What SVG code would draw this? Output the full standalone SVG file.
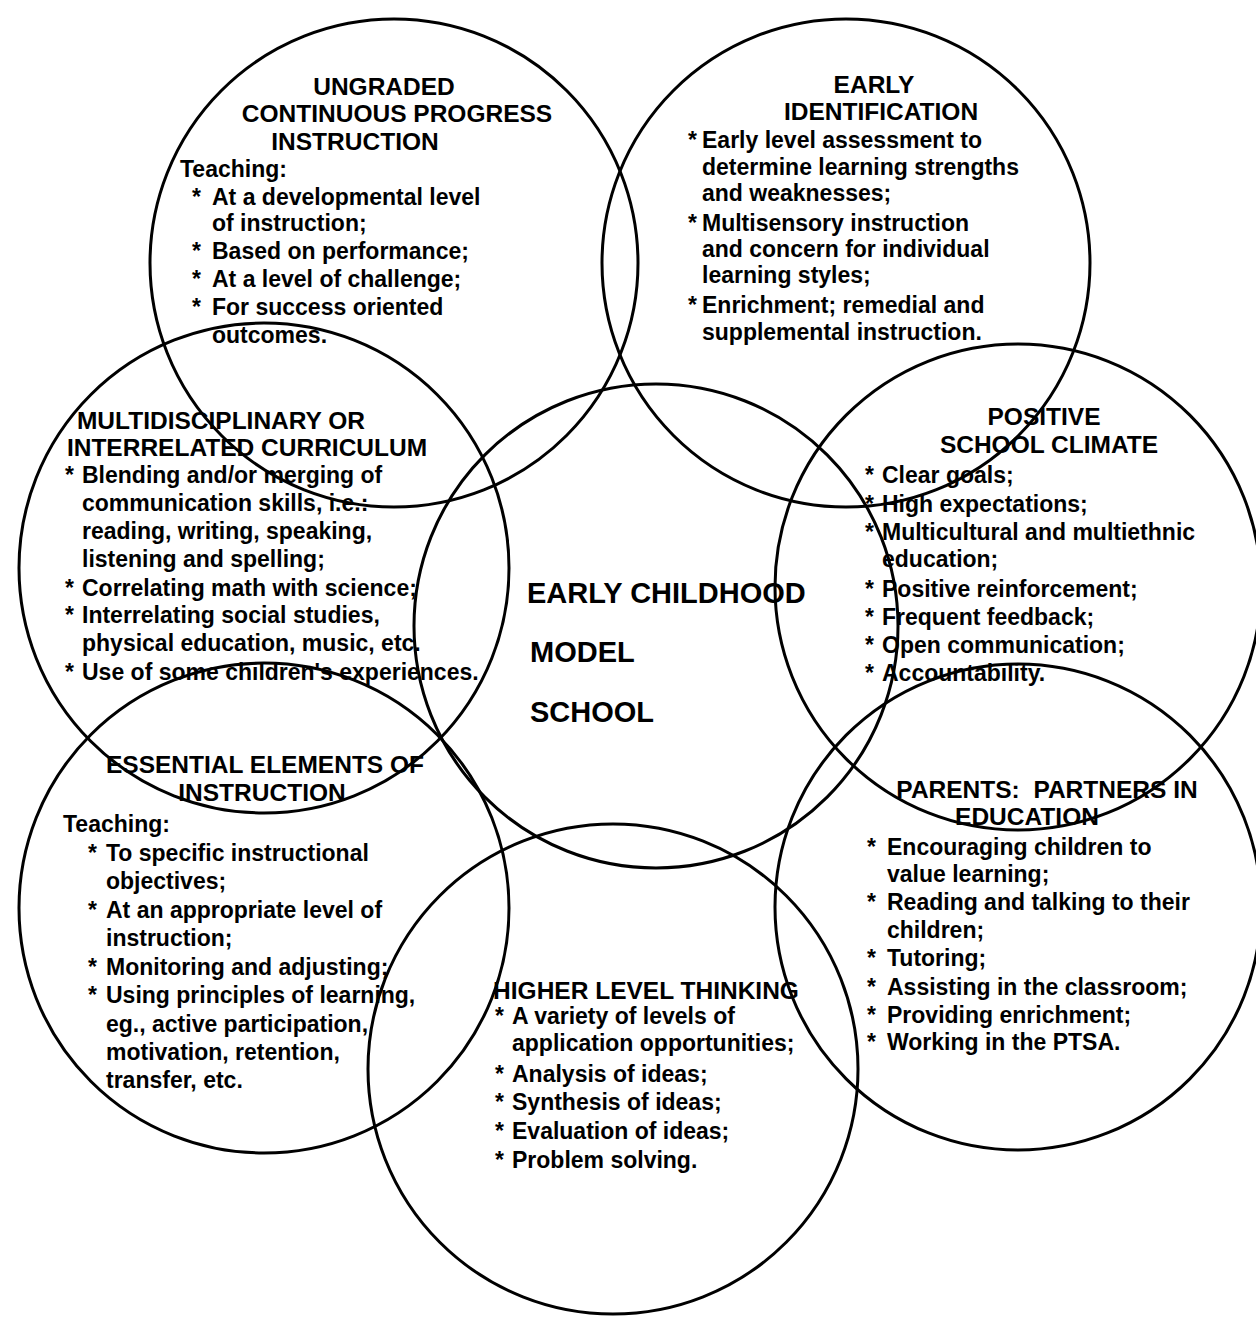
<svg xmlns="http://www.w3.org/2000/svg" width="1256" height="1317" viewBox="0 0 1256 1317">
<style>
.c{fill:none;stroke:#000;stroke-width:3}
text{font-family:"Liberation Sans",Arial,Helvetica,sans-serif;font-weight:bold;fill:#000}
.h{font-size:24.5px;text-anchor:middle}
.b{font-size:23px}
.m{font-size:29px}
</style>
<rect width="1256" height="1317" fill="#fff"/>
<g id="ungraded">
<circle class="c" cx="394" cy="263" r="244"/>
<text class="h" x="384" y="95">UNGRADED</text>
<text class="h" x="397" y="122">CONTINUOUS PROGRESS</text>
<text class="h" x="355" y="150">INSTRUCTION</text>
<text class="b" x="180" y="177">Teaching:</text>
<text class="b" x="192" y="205">*</text><text class="b" x="212" y="205">At a developmental level</text>
<text class="b" x="212" y="231">of instruction;</text>
<text class="b" x="192" y="259">*</text><text class="b" x="212" y="259">Based on performance;</text>
<text class="b" x="192" y="287">*</text><text class="b" x="212" y="287">At a level of challenge;</text>
<text class="b" x="192" y="315">*</text><text class="b" x="212" y="315">For success oriented</text>
<text class="b" x="212" y="343">outcomes.</text>
</g>
<g id="early-identification">
<circle class="c" cx="846" cy="263" r="244"/>
<text class="h" x="874" y="93">EARLY</text>
<text class="h" x="881" y="120">IDENTIFICATION</text>
<text class="b" x="688" y="148">*</text><text class="b" x="702" y="148">Early level assessment to</text>
<text class="b" x="702" y="175">determine learning strengths</text>
<text class="b" x="702" y="201">and weaknesses;</text>
<text class="b" x="688" y="231">*</text><text class="b" x="702" y="231">Multisensory instruction</text>
<text class="b" x="702" y="257">and concern for individual</text>
<text class="b" x="702" y="283">learning styles;</text>
<text class="b" x="688" y="313">*</text><text class="b" x="702" y="313">Enrichment; remedial and</text>
<text class="b" x="702" y="340">supplemental instruction.</text>
</g>
<g id="multidisciplinary">
<circle class="c" cx="264" cy="568" r="245"/>
<text class="h" x="221" y="429">MULTIDISCIPLINARY OR</text>
<text class="h" x="247" y="456">INTERRELATED CURRICULUM</text>
<text class="b" x="65" y="483">*</text><text class="b" x="82" y="483">Blending and/or merging of</text>
<text class="b" x="82" y="511">communication skills, i.e.:</text>
<text class="b" x="82" y="539">reading, writing, speaking,</text>
<text class="b" x="82" y="567">listening and spelling;</text>
<text class="b" x="65" y="596">*</text><text class="b" x="82" y="596">Correlating math with science;</text>
<text class="b" x="65" y="623">*</text><text class="b" x="82" y="623">Interrelating social studies,</text>
<text class="b" x="82" y="651">physical education, music, etc.</text>
<text class="b" x="65" y="680">*</text><text class="b" x="82" y="680">Use of some children's experiences.</text>
</g>
<g id="positive-climate">
<circle class="c" cx="1018" cy="587" r="243"/>
<text class="h" x="1044" y="425">POSITIVE</text>
<text class="h" x="1049" y="453">SCHOOL CLIMATE</text>
<text class="b" x="865" y="483">*</text><text class="b" x="882" y="483">Clear goals;</text>
<text class="b" x="865" y="512">*</text><text class="b" x="882" y="512">High expectations;</text>
<text class="b" x="865" y="540">*</text><text class="b" x="882" y="540">Multicultural and multiethnic</text>
<text class="b" x="882" y="567">education;</text>
<text class="b" x="865" y="597">*</text><text class="b" x="882" y="597">Positive reinforcement;</text>
<text class="b" x="865" y="625">*</text><text class="b" x="882" y="625">Frequent feedback;</text>
<text class="b" x="865" y="653">*</text><text class="b" x="882" y="653">Open communication;</text>
<text class="b" x="865" y="681">*</text><text class="b" x="882" y="681">Accountability.</text>
</g>
<g id="center">
<circle class="c" cx="656" cy="626" r="242"/>
<text class="m" x="527" y="603">EARLY CHILDHOOD</text>
<text class="m" x="530" y="662">MODEL</text>
<text class="m" x="530" y="722">SCHOOL</text>
</g>
<g id="essential-elements">
<circle class="c" cx="264" cy="908" r="245"/>
<text class="h" x="265" y="773">ESSENTIAL ELEMENTS OF</text>
<text class="h" x="262" y="801">INSTRUCTION</text>
<text class="b" x="63" y="832">Teaching:</text>
<text class="b" x="88" y="861">*</text><text class="b" x="106" y="861">To specific instructional</text>
<text class="b" x="106" y="889">objectives;</text>
<text class="b" x="88" y="918">*</text><text class="b" x="106" y="918">At an appropriate level of</text>
<text class="b" x="106" y="946">instruction;</text>
<text class="b" x="88" y="975">*</text><text class="b" x="106" y="975">Monitoring and adjusting;</text>
<text class="b" x="88" y="1003">*</text><text class="b" x="106" y="1003">Using principles of learning,</text>
<text class="b" x="106" y="1032">eg., active participation,</text>
<text class="b" x="106" y="1060">motivation, retention,</text>
<text class="b" x="106" y="1088">transfer, etc.</text>
</g>
<g id="parents">
<circle class="c" cx="1018" cy="907" r="243"/>
<text class="h" x="1047" y="798" xml:space="preserve">PARENTS:  PARTNERS IN</text>
<text class="h" x="1027" y="825">EDUCATION</text>
<text class="b" x="867" y="855">*</text><text class="b" x="887" y="855">Encouraging children to</text>
<text class="b" x="887" y="882">value learning;</text>
<text class="b" x="867" y="910">*</text><text class="b" x="887" y="910">Reading and talking to their</text>
<text class="b" x="887" y="938">children;</text>
<text class="b" x="867" y="966">*</text><text class="b" x="887" y="966">Tutoring;</text>
<text class="b" x="867" y="995">*</text><text class="b" x="887" y="995">Assisting in the classroom;</text>
<text class="b" x="867" y="1023">*</text><text class="b" x="887" y="1023">Providing enrichment;</text>
<text class="b" x="867" y="1050">*</text><text class="b" x="887" y="1050">Working in the PTSA.</text>
</g>
<g id="higher-level-thinking">
<circle class="c" cx="613" cy="1069" r="245"/>
<text class="h" x="646" y="999">HIGHER LEVEL THINKING</text>
<text class="b" x="495" y="1024">*</text><text class="b" x="512" y="1024">A variety of levels of</text>
<text class="b" x="512" y="1051">application opportunities;</text>
<text class="b" x="495" y="1082">*</text><text class="b" x="512" y="1082">Analysis of ideas;</text>
<text class="b" x="495" y="1110">*</text><text class="b" x="512" y="1110">Synthesis of ideas;</text>
<text class="b" x="495" y="1139">*</text><text class="b" x="512" y="1139">Evaluation of ideas;</text>
<text class="b" x="495" y="1168">*</text><text class="b" x="512" y="1168">Problem solving.</text>
</g>
</svg>
